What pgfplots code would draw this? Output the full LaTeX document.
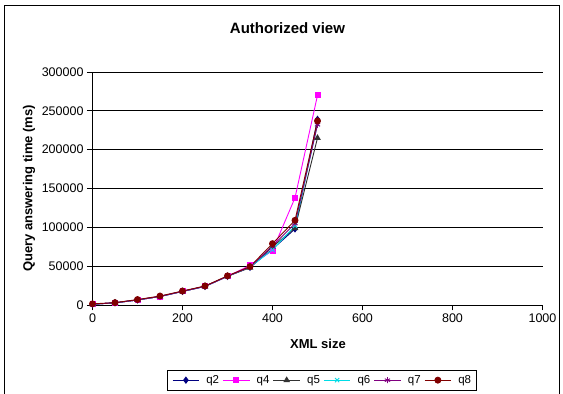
\documentclass[border=0pt]{standalone}
\usepackage{fontspec}
\setmainfont{Liberation Sans}
\usepackage{pgfplots}
\pgfplotsset{compat=1.18}
\definecolor{q2c}{RGB}{0,0,128}
\definecolor{q4c}{RGB}{255,0,255}
\definecolor{q5c}{RGB}{51,51,51}
\definecolor{q6c}{RGB}{0,220,230}
\definecolor{q7c}{RGB}{128,0,128}
\definecolor{q8c}{RGB}{128,0,0}
\begin{document}
\begin{tikzpicture}
\useasboundingbox (0pt,0pt) rectangle (563pt,394pt);
\draw[line width=1pt] (4.5pt,-10pt) -- (4.5pt,388.5pt) -- (559.5pt,388.5pt) -- (559.5pt,-10pt);
\node[font=\fontsize{15}{18}\selectfont\bfseries] at (287.5pt,366pt) {Authorized view};
\begin{axis}[
  at={(92.5pt,89pt)}, anchor=south west,
  scale only axis, width=450pt, height=233pt,
  xmin=0, xmax=1000, ymin=0, ymax=300000,
  xtick={0,200,...,1000}, ytick={0,50000,...,300000},
  axis x line*=bottom, axis y line*=left,
  axis line style={-, line width=0.8pt},
  tick align=outside, major tick length=5.5pt,
  tick style={black, line width=0.8pt},
  ymajorgrids, grid style={black, line width=0.7pt},
  scaled y ticks=false, scaled x ticks=false,
  /pgf/number format/fixed, /pgf/number format/1000 sep={},
  /pgf/number format/assume math mode=true,
  tick label style={font=\fontsize{12.5}{15}\selectfont},
  xlabel={XML size},
  ylabel={Query answering time (ms)},
  label style={font=\fontsize{13}{15}\selectfont\bfseries},
  xlabel style={at={(axis description cs:0.501,-0.167)}, anchor=center},
  ylabel style={at={(axis description cs:-0.141,0.5)}, anchor=center},
  legend columns=6,
  legend style={at={(axis description cs:0.165,-0.279)}, anchor=north west,
    draw=black, line width=0.8pt, font=\fontsize{11.5}{14}\selectfont,
    inner xsep=5pt, inner ysep=3pt,
    nodes={inner xsep=0pt},
    /tikz/every even column/.append style={column sep=3.4pt},
    /tikz/every odd column/.append style={column sep=6.7pt}},
  legend image code/.code={\draw[mark repeat=2,mark phase=2] plot coordinates {(0pt,0pt) (13.3pt,0pt) (26.6pt,0pt)};},
  every axis plot/.append style={line width=0.9pt},
]
\addplot[color=q2c, mark=diamond*, mark size=3pt] coordinates {(0,1000) (50,2800) (100,6500) (150,11000) (200,17500) (250,24000) (300,37000) (350,48500) (400,72000) (450,98000) (500,239000)};
\addplot[color=q4c, mark=square*, mark size=2.5pt] coordinates {(0,1000) (50,2800) (100,6500) (150,11000) (200,17500) (250,24000) (300,37000) (350,51000) (400,70000) (450,138000) (500,270000)};
\addplot[color=q5c, mark=triangle*, mark size=3pt] coordinates {(0,1000) (50,2800) (100,6500) (150,11000) (200,17500) (250,24000) (300,37000) (350,48000) (400,75000) (450,99000) (500,215000)};
\addplot[color=q6c, mark=x, mark size=3pt] coordinates {(0,1000) (50,2800) (100,6500) (150,11000) (200,17500) (250,24000) (300,37000) (350,49000) (400,71000) (450,102000) (500,233000)};
\addplot[color=q7c, mark=asterisk, mark size=3pt] coordinates {(0,1000) (50,2800) (100,6500) (150,11000) (200,17500) (250,24000) (300,37000) (350,49000) (400,76000) (450,105000) (500,232000)};
\addplot[color=q8c, mark=*, mark size=3pt] coordinates {(0,1500) (50,3000) (100,7000) (150,11500) (200,18000) (250,24500) (300,37500) (350,49500) (400,79000) (450,109000) (500,237000)};
\legend{q2,q4,q5,q6,q7,q8}
\end{axis}
\end{tikzpicture}
\end{document}
